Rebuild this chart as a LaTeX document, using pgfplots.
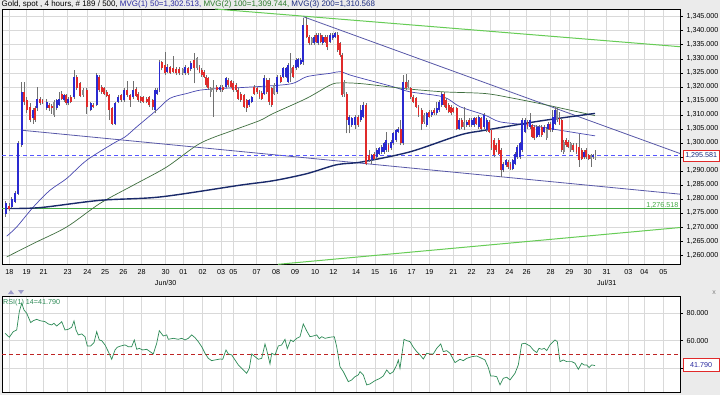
\documentclass[border=0pt]{standalone}
\usepackage{fontspec}
\setmainfont{Liberation Sans}
\usepackage{pgfplots}
\usepackage{pgfplotstable}
\pgfplotsset{compat=1.18}
\definecolor{bgc}{HTML}{EBEBEB}
\definecolor{gridc}{HTML}{D9D9D9}
\definecolor{upc}{HTML}{2A2AD0}
\definecolor{dnc}{HTML}{E02A2A}
\definecolor{grc}{HTML}{8C8C8C}
\definecolor{wickc}{HTML}{707070}
\definecolor{mvgone}{HTML}{4848B0}
\definecolor{mvgtwo}{HTML}{3E6E3E}
\definecolor{mvgthree}{HTML}{1A2A6A}
\definecolor{trendc}{HTML}{5858A8}
\definecolor{dashc}{HTML}{5555FF}
\definecolor{greenl}{HTML}{66CC55}
\definecolor{greenh}{HTML}{44AA44}
\definecolor{rsic}{HTML}{2E8B57}
\definecolor{titleblue}{HTML}{2A2AA0}
\definecolor{titlegreen}{HTML}{2A7A2A}
\definecolor{titlenavy}{HTML}{1A2A80}

\pgfplotstableread{
x b t l h
5.7 1274.5 1278.6 1273.6 1279.2
11.7 1277.1 1280.1 1276.6 1280.6
15 1279.0 1282.1 1278.6 1282.9
18.3 1281.9 1299.8 1281.5 1300.5
21.7 1299.2 1318.2 1298.5 1321.8
33.3 1308.7 1311.7 1306.9 1312.3
37.3 1312.3 1315.8 1311.5 1319.8
46.7 1312.3 1314.7 1311.7 1315.5
56.7 1312.3 1315.2 1311.7 1315.8
59.3 1313.5 1315.8 1313.1 1318.2
64 1315.2 1317.0 1314.7 1317.6
68.3 1314.1 1315.8 1313.5 1316.4
74 1316.2 1323.6 1315.8 1326.0
90.7 1311.7 1314.1 1311.2 1314.7
96.7 1313.5 1324.2 1313.1 1324.8
115 1306.9 1314.1 1306.3 1314.7
118.3 1314.7 1316.4 1314.1 1317.0
124 1315.2 1318.8 1314.7 1319.4
133.3 1316.2 1318.8 1315.8 1322.2
155 1311.7 1318.8 1310.5 1319.4
157.3 1317.6 1318.8 1317.0 1319.4
159.5 1318.8 1328.9 1318.2 1329.5
167.3 1325.4 1327.2 1324.8 1328.0
185 1324.8 1327.2 1324.2 1327.8
190.7 1326.2 1328.6 1325.6 1329.2
220 1318.8 1320.0 1318.2 1320.6
226 1319.8 1323.0 1319.4 1323.6
249.3 1313.5 1315.2 1312.9 1315.8
251.7 1314.7 1316.2 1314.1 1316.7
264 1317.6 1323.0 1317.0 1324.2
277.3 1318.2 1323.6 1317.6 1324.2
283.3 1323.6 1326.6 1323.0 1327.2
286 1323.6 1326.6 1323.0 1327.2
288.4 1321.8 1327.8 1321.2 1328.6
296 1326.6 1329.5 1326.0 1330.1
298.3 1327.2 1329.8 1326.6 1330.4
300.7 1328.3 1329.5 1327.8 1330.1
303.3 1328.9 1342.0 1327.7 1344.4
314 1335.5 1337.9 1334.9 1338.5
318.3 1335.5 1338.5 1334.9 1339.1
322.7 1335.5 1337.9 1334.9 1338.5
330 1336.1 1338.5 1335.5 1339.1
332.7 1337.3 1338.5 1336.7 1339.1
335 1337.9 1339.1 1337.3 1339.7
349.3 1306.3 1309.3 1303.4 1309.9
351.7 1306.3 1308.7 1305.7 1309.3
355 1306.3 1309.3 1305.1 1309.9
360.7 1308.1 1311.7 1307.5 1313.5
363 1309.3 1313.5 1308.7 1314.7
371.7 1293.8 1295.6 1292.6 1296.2
376.7 1295.0 1297.4 1294.4 1298.0
379.3 1296.2 1298.0 1295.6 1298.6
381.7 1296.8 1298.6 1296.2 1299.2
384 1296.8 1299.8 1296.2 1300.4
386.2 1297.4 1301.0 1296.8 1303.9
391 1298.0 1300.4 1297.4 1301.0
393.3 1299.8 1303.4 1299.2 1304.0
396 1301.0 1304.5 1300.4 1305.1
398.3 1303.9 1305.1 1303.4 1305.7
403.3 1299.8 1321.8 1299.2 1324.2
426.7 1306.3 1310.5 1305.7 1311.1
431.7 1309.9 1311.1 1309.3 1311.7
436.7 1310.5 1312.3 1309.9 1314.7
439 1311.7 1314.7 1311.1 1315.3
441.7 1313.5 1317.6 1312.9 1318.2
459.3 1305.1 1308.1 1304.5 1308.7
466.7 1306.3 1307.5 1305.7 1308.1
471.7 1306.3 1308.1 1305.7 1308.7
474 1306.3 1308.7 1305.7 1309.3
478.6 1305.7 1309.3 1305.1 1309.9
484 1305.7 1309.9 1305.1 1310.5
486.7 1304.5 1308.1 1303.9 1308.7
503.3 1290.2 1292.6 1289.6 1293.2
506 1292.0 1293.8 1291.4 1294.4
512.7 1290.8 1293.8 1290.2 1294.4
515 1292.6 1296.2 1292.0 1296.8
517.3 1295.0 1298.6 1294.4 1299.2
520 1295.0 1299.8 1294.4 1300.4
522.3 1297.4 1308.1 1296.8 1308.7
525 1303.9 1308.1 1303.4 1308.7
530 1305.7 1308.1 1305.1 1310.5
536.7 1302.2 1305.7 1301.6 1306.3
539.3 1302.8 1305.7 1302.2 1306.3
544 1303.9 1305.7 1303.4 1306.3
548.3 1305.1 1306.9 1304.5 1307.5
552.6 1304.5 1309.3 1303.9 1311.7
555 1306.9 1311.7 1306.3 1312.9
584 1295.0 1296.8 1294.4 1297.4
593.3 1295.0 1295.6 1294.4 1296.2
}\upT

\pgfplotstableread{
x b t l h
9 1276.3 1277.6 1275.8 1278.5
24 1314.6 1318.2 1313.5 1321.8
26.7 1311.7 1315.2 1310.8 1316.4
30.3 1308.1 1312.9 1307.3 1314.1
35.3 1308.1 1312.3 1307.5 1313.1
40 1314.3 1315.5 1313.5 1316.2
42.5 1314.3 1315.2 1313.8 1315.8
49 1312.6 1313.5 1311.5 1314.1
51.7 1312.3 1313.1 1310.3 1313.8
61.7 1315.8 1317.6 1315.2 1318.5
66.2 1314.1 1317.0 1313.5 1317.6
70.7 1314.7 1316.4 1314.1 1317.0
76.7 1319.4 1323.6 1318.8 1324.2
80 1316.7 1321.2 1316.2 1321.8
86.7 1312.9 1318.8 1310.3 1319.4
93.3 1312.9 1313.5 1312.3 1314.1
99.2 1318.8 1323.6 1318.2 1324.2
101.7 1318.2 1320.0 1317.6 1320.6
104 1317.6 1319.4 1317.0 1320.0
106.7 1316.7 1318.2 1316.2 1318.8
109.3 1311.7 1317.0 1308.1 1317.6
112.3 1306.9 1312.3 1306.3 1312.9
120.8 1315.2 1317.0 1314.7 1317.6
127.3 1317.0 1318.8 1316.4 1322.2
130 1315.2 1317.0 1312.9 1317.6
136 1316.7 1319.1 1316.2 1319.8
138.3 1315.2 1317.6 1314.7 1318.2
140.7 1315.0 1316.2 1314.3 1316.7
143.3 1314.7 1316.2 1314.1 1316.7
146.7 1314.7 1315.8 1314.1 1316.4
149.3 1313.5 1316.2 1312.9 1316.7
152.7 1312.9 1315.2 1311.7 1315.8
161.7 1326.6 1328.9 1325.9 1329.3
165 1324.8 1327.8 1324.2 1332.5
170 1325.0 1326.9 1324.5 1327.5
173.3 1325.4 1326.6 1324.8 1331.0
176 1324.8 1326.2 1324.2 1326.9
179.3 1324.8 1326.2 1324.2 1326.9
188.3 1324.8 1326.6 1324.2 1327.2
194 1326.6 1329.5 1321.2 1331.9
199.5 1325.4 1327.2 1325.0 1327.8
201.7 1324.2 1326.0 1323.6 1326.6
204 1323.6 1325.4 1323.0 1326.0
206.2 1320.6 1323.6 1320.0 1324.2
208.4 1319.4 1323.0 1318.8 1323.6
216.7 1318.8 1320.0 1318.2 1320.6
222.7 1318.8 1320.0 1318.2 1320.6
228.3 1320.6 1322.4 1320.0 1323.0
231 1320.0 1322.2 1319.4 1322.6
233.3 1318.8 1321.4 1318.2 1322.0
236 1318.8 1320.6 1318.2 1321.2
238.3 1315.8 1318.8 1315.2 1319.4
240.7 1315.2 1317.6 1314.7 1318.2
244 1312.9 1317.0 1312.3 1317.6
246.7 1312.3 1315.2 1311.1 1315.8
254 1317.6 1320.0 1317.0 1320.6
257.3 1318.2 1319.4 1317.6 1320.0
259.5 1316.4 1318.2 1315.8 1318.8
261.7 1315.8 1317.9 1315.2 1318.5
266.7 1318.2 1322.4 1317.6 1323.0
269.3 1314.7 1322.4 1313.5 1323.0
271.7 1313.5 1319.4 1312.9 1320.0
280.7 1321.8 1323.6 1321.2 1324.2
293.3 1323.6 1327.2 1323.0 1327.8
306.7 1337.9 1342.0 1337.3 1345.0
309 1335.5 1337.9 1334.9 1338.5
316 1336.1 1338.5 1335.5 1339.1
320.7 1336.1 1338.5 1335.5 1339.1
325 1336.1 1337.9 1335.5 1338.5
327.3 1334.3 1337.9 1333.1 1338.5
337.7 1333.1 1338.5 1332.5 1339.4
340 1331.3 1335.5 1330.7 1336.1
342 1317.0 1331.3 1316.4 1331.9
346.7 1308.1 1317.6 1303.4 1318.2
358.3 1306.3 1309.3 1305.7 1309.9
366 1292.6 1313.5 1292.0 1314.1
369.3 1293.8 1295.6 1293.2 1297.4
374 1294.4 1296.2 1293.8 1296.8
388.5 1297.4 1299.2 1296.8 1299.8
400.7 1299.8 1305.1 1299.2 1308.1
406 1319.4 1321.8 1318.8 1324.5
410.7 1316.4 1319.4 1315.8 1320.0
413.3 1314.7 1316.4 1314.1 1317.0
416 1312.9 1315.9 1312.3 1316.4
418.5 1309.9 1312.9 1309.3 1313.5
421.7 1306.9 1311.7 1304.5 1312.3
429.3 1309.3 1311.1 1308.7 1311.7
434 1310.5 1311.7 1309.9 1312.3
444 1313.5 1317.6 1312.9 1318.2
446.3 1312.3 1315.3 1311.7 1315.9
448.6 1311.1 1313.5 1310.5 1314.1
450.9 1310.5 1312.9 1309.9 1313.5
453.3 1311.1 1312.3 1310.5 1312.9
456.7 1305.1 1312.3 1304.5 1312.9
461.7 1305.7 1308.1 1305.1 1308.7
469.3 1306.3 1308.1 1305.7 1308.7
476.2 1306.9 1308.7 1306.3 1309.3
481.4 1305.1 1308.7 1304.5 1309.3
489 1303.9 1307.5 1303.4 1308.1
491.5 1298.0 1304.5 1297.4 1305.1
494 1295.6 1301.0 1295.0 1301.6
496.4 1297.4 1299.2 1296.8 1299.8
498.7 1296.2 1301.0 1295.6 1301.6
501 1290.2 1297.4 1287.9 1298.0
508.3 1291.4 1293.2 1290.8 1293.8
510.5 1290.8 1292.6 1290.2 1293.2
527.5 1305.7 1307.5 1305.1 1308.1
532 1302.2 1306.3 1301.6 1306.9
534.3 1301.6 1305.7 1301.0 1306.3
541.7 1302.8 1305.7 1302.2 1306.3
550.3 1304.5 1306.9 1303.9 1307.5
559.5 1306.9 1308.7 1306.3 1311.1
561.7 1297.4 1308.1 1296.8 1308.7
566 1299.2 1301.0 1298.6 1301.6
568.3 1298.6 1300.4 1298.0 1301.0
573.3 1297.4 1299.2 1296.8 1299.8
576.5 1296.8 1299.2 1296.2 1299.8
579.3 1293.8 1298.6 1291.4 1303.3
581.7 1294.4 1297.4 1293.8 1298.0
586.3 1295.0 1297.4 1294.4 1298.0
588.7 1294.4 1295.6 1293.8 1296.2
}\dnT

\pgfplotstableread{
x b t l h
54 1309.9 1314.7 1309.3 1315.2
83.3 1317.0 1318.8 1316.4 1319.4
182.7 1324.8 1326.2 1324.2 1326.6
197.3 1326.6 1330.1 1325.9 1330.7
210.7 1318.2 1319.4 1316.2 1320.0
213.3 1318.8 1319.4 1309.3 1322.4
274.3 1317.6 1320.6 1317.0 1321.2
290.7 1324.8 1326.6 1321.8 1331.9
311.7 1335.5 1337.3 1334.9 1337.9
344.3 1317.6 1321.8 1316.4 1322.4
408.3 1320.0 1321.8 1319.4 1322.4
424 1307.5 1309.9 1306.9 1310.5
464 1305.7 1307.5 1304.5 1312.9
546.7 1301.6 1305.1 1301.0 1305.7
557.4 1308.1 1311.7 1307.5 1312.3
563.7 1296.8 1300.4 1296.2 1301.0
570.7 1297.4 1299.8 1296.8 1300.4
591 1294.4 1295.6 1291.4 1296.2
595.5 1294.4 1295.6 1294.0 1297.4
}\grT

\newcommand\candles[2]{%
\addplot[draw=none, no markers, forget plot,
  error bars/.cd, y dir=plus, y explicit, error mark=none,
  error bar style={draw=wickc, solid, line width=0.6bp}]
  table[x=x, y=l, y error plus expr={\thisrow{h}-\thisrow{l}}] {#1};
\addplot[draw=none, no markers, forget plot,
  error bars/.cd, y dir=plus, y explicit, error mark=none,
  error bar style={draw=#2, solid, line width=1.9bp}]
  table[x=x, y=b, y error plus expr={\thisrow{t}-\thisrow{b}}] {#1};
}

\pgfplotsset{
  datex/.style={
    xmin=2, xmax=680,
    xtick={9.3,26.7,43.7,67.7,87.3,105,123.3,141.7,165.7,183.3,202.7,221,233.3,256.7,276,295,315,333.3,356,375,393.3,411.7,429.3,453.3,471.7,490.7,509.3,526.7,550.7,569.3,587.7,606.7,628.3,644.3,663.3},
    xtick pos=bottom,
    xtick style={draw=none},
    scale only axis,
    width=678bp,
    axis background/.style={fill=white},
    grid=major,
    grid style={draw=gridc, line width=0.5bp},
    axis line style={black, line width=0.8bp},
    tick label style={font=\fontsize{7.2}{8}\selectfont, /pgf/number format/assume math mode=true},
    ytick pos=right,
    yticklabel pos=right,
    ytick style={black, line width=0.5bp},
    tick align=outside,
    major tick length=3bp,
    clip=false,
  }
}

\begin{document}
\begin{tikzpicture}
\useasboundingbox (0bp,0bp) rectangle (720bp,-395bp);
\fill[bgc] (0bp,0bp) rectangle (720bp,-395bp);

\begin{axis}[datex,
  at={(2bp,-264.3bp)}, anchor=south west,
  height=255.3bp,
  ymin=1256.68, ymax=1347.75,
  ytick={1260,1265,...,1345},
  yticklabel style={/pgf/number format/.cd, fixed, fixed zerofill, precision=3, 1000 sep={,}},
  xticklabels={18,19,21,23,24,25,26,28,30,01,02,03,05,07,08,09,10,12,14,15,16,17,19,21,22,23,24,26,28,29,30,31,03,04,05},
  xticklabel style={yshift=1bp},
]
% trend lines
\addplot[greenl, line width=1bp, forget plot] coordinates {(215,1347.75) (680,1334.3)};
\addplot[greenl, line width=1bp, forget plot] coordinates {(278,1256.68) (680,1269.8)};
\addplot[greenh, line width=0.9bp, forget plot] coordinates {(2,1276.518) (680,1276.518)};
\addplot[trendc, line width=0.8bp, forget plot] coordinates {(303.3,1345.0) (680,1296.2)};
\addplot[trendc, line width=0.8bp, forget plot] coordinates {(21.7,1304.5) (680,1281.7)};
\addplot[dashc, dash pattern=on 4bp off 3bp, line width=0.9bp, forget plot] coordinates {(2,1295.581) (680,1295.581)};
% moving averages
\addplot[mvgone, line width=0.7bp, smooth, forget plot] coordinates {
(6.7,1266.7) (16.7,1270.0) (33.3,1277.1) (50,1283.1) (66.7,1287.3) (86.7,1293.8) (113.3,1299.8) (125,1302.1) (136.7,1305.7) (156.7,1311.7) (170,1315.9) (186.7,1317.6) (200,1318.8) (220,1319.4) (245,1319.8) (290,1321.0) (306.7,1323.6) (330,1324.8) (340,1325.4) (350,1324.2) (362,1323.0) (393.3,1320.0) (410,1318.2) (443.3,1316.4) (460,1312.9) (485,1309.9) (500,1307.5) (530,1306.3) (560,1304.5) (595,1302.5)};
\addplot[mvgtwo, line width=0.7bp, smooth, forget plot] coordinates {
(6.7,1259.3) (33.3,1264.1) (66.7,1270.0) (100,1278.4) (133.3,1284.9) (166.7,1291.4) (200,1299.8) (233.3,1304.5) (260,1308.0) (273.3,1310.5) (306.7,1315.9) (330,1320.6) (340,1321.4) (362,1321.1) (403.3,1319.4) (443.3,1318.2) (485,1317.6) (513.3,1315.9) (546.7,1313.5) (595,1309.7)};
\addplot[mvgthree, line width=1.4bp, smooth, forget plot] coordinates {
(6.7,1276.6) (40,1276.9) (100,1279.5) (160,1280.7) (240,1284.9) (273.3,1286.5) (306.7,1289.0) (336.7,1292.2) (362,1293.2) (410,1296.8) (460,1302.8) (485,1304.5) (540,1307.8) (595,1310.5)};
% candles
\candles{\grT}{grc}
\candles{\upT}{upc}
\candles{\dnT}{dnc}
\end{axis}

\begin{axis}[datex,
  at={(2bp,-392.7bp)}, anchor=south west,
  height=96bp,
  ymin=22, ymax=92.1,
  ytick={40,60,80},
  yticklabels={,60.000,80.000},
  xticklabels={},
]
\addplot[dnc!85!black, dash pattern=on 4bp off 3bp, line width=0.8bp, forget plot] coordinates {(2,50) (680,50)};
\addplot[rsic, line width=0.7bp, forget plot] coordinates {
(5.0,65.4) (9.3,62.5) (13.3,66.6) (16.7,67.8) (19.3,81.2) (21.7,87.3) (24,82.4) (26.7,80.0) (30.7,73.2) (33.3,74.6) (36.7,75.6) (40,74.6) (45,73.9) (48.3,72.2) (51.7,71.5) (54,72.7) (56.7,70.7) (60,72.7) (61.7,73.9) (65,67.8) (68.3,68.3) (71.7,69.8) (74,74.4) (76,67.8) (78.3,64.2) (81.7,64.9) (85,62.9) (87.3,56.1) (90.7,56.1) (94,58.6) (96.7,66.6) (99.3,60.5) (101.7,60.0) (105,56.9) (108.3,52.0) (111.7,46.4) (115,53.2) (117.3,55.2) (120.7,56.1) (125,56.9) (128.3,55.6) (131.7,55.6) (134.3,60.5) (136.7,53.7) (139.3,54.4) (142.7,53.2) (146.7,53.7) (150,52.0) (153.3,50.3) (156.7,58.1) (159.3,67.3) (163.3,63.4) (166.7,64.2) (168.3,61.0) (173.3,61.7) (178.3,61.0) (181.7,61.7) (185,60.5) (188.3,61.7) (191.7,64.2) (195,62.2) (198.3,59.3) (201.7,55.6) (205,50.8) (208.3,47.1) (211.7,45.4) (215,45.9) (220,46.6) (222.7,46.4) (226,53.2) (228.3,50.3) (231.7,49.6) (235,45.9) (238.3,42.3) (241.7,39.8) (246.7,36.2) (249.3,39.8) (251.7,50.3) (255,48.3) (258.3,46.4) (261.7,47.1) (265,57.6) (266.7,53.2) (270,43.0) (271.7,50.8) (275,49.6) (278.3,56.1) (281.7,56.9) (285,61.0) (287.3,54.2) (290.7,60.5) (293.3,59.3) (296.7,61.7) (300,62.9) (303.3,72.2) (306.7,67.1) (310,62.9) (313.3,63.4) (316.7,64.2) (319.3,61.5) (321.7,62.9) (325,61.7) (330,62.5) (334.3,62.9) (336.7,55.6) (340,41.0) (343.3,37.4) (348.3,30.1) (351.7,31.3) (355,33.7) (358.3,35.0)
(360,37.4) (363.3,35.0) (366.7,27.7) (370,28.4) (375,30.8) (380,32.5) (383.3,34.2) (386.7,38.6) (390,35.7) (393.3,37.4) (396.7,42.3) (398.3,45.9) (400,39.8) (404,61.0) (406.7,60.0) (410,59.3) (413.3,55.2) (416.7,52.0) (420,49.6) (423.3,46.6) (426.7,50.8) (430,50.3) (433.3,50.3) (436.7,54.4) (440.7,57.6) (443.3,52.0) (446.7,52.7) (450,50.8) (455,44.0) (460,46.4) (463.3,45.4) (466.7,47.1) (471.7,48.3) (476.7,48.8) (481.7,47.1) (485,45.9) (488.3,40.4) (490.7,34.2) (493.3,34.2) (496.7,33.7) (500,27.7) (503.3,32.5) (506.7,33.3) (510,31.3) (515,36.2) (518.3,42.3) (521.7,57.6) (525,58.1) (530,56.1) (533.3,53.2) (536.7,51.3) (539,54.4) (541.7,53.7) (544.3,54.4) (546.7,52.7) (550,56.9) (555,60.5) (557.3,59.3) (560,44.7) (563.3,45.9) (566.7,44.7) (571.7,44.7) (575,43.5) (578.3,39.1) (581.7,43.5) (584,42.3) (586.7,42.3) (589,40.4) (591.7,42.3) (595,41.8)};
\end{axis}

% texts
\node[anchor=west, inner sep=0pt, font=\fontsize{8}{9}\selectfont] at (1.5bp,-4.5bp)
 {Gold, spot , 4 hours, \# 189 / 500, \textcolor{titleblue}{MVG(1) 50=1,302.513,} \textcolor{titlegreen}{MVG(2) 100=1,309.744,} \textcolor{titlenavy}{MVG(3) 200=1,310.568}};
\node[font=\fontsize{7.2}{8}\selectfont, inner sep=0pt] at (165.7bp,-282.5bp) {Jun/30};
\node[font=\fontsize{7.2}{8}\selectfont, inner sep=0pt] at (606.7bp,-282.5bp) {Jul/31};
\node[anchor=south east, font=\fontsize{7.2}{8}\selectfont, text=greenh, inner sep=0.5bp] at (679bp,-209bp) {1,276.518};
\node[draw=dnc, fill=white, font=\fontsize{7.2}{8}\selectfont, text=titlenavy, inner sep=1bp, minimum width=36bp, minimum height=11bp, anchor=west] at (683bp,-155.7bp) {1,295.581};
\node[draw=dnc, fill=white, font=\fontsize{7.2}{8}\selectfont, text=titleblue, inner sep=1bp, minimum width=36bp, minimum height=13bp, anchor=west] at (683bp,-365bp) {41.790};
\node[anchor=north west, font=\fontsize{7.2}{8}\selectfont, text=rsic, inner sep=0pt] at (3bp,-299bp) {RSI(1) 14=41.790};
\fill[gray!70!blue!60] (8bp,-294bp) -- (14bp,-294bp) -- (11bp,-290bp) -- cycle;
\fill[gray!70!blue!60] (18bp,-290bp) -- (24bp,-290bp) -- (21bp,-294bp) -- cycle;
\node[font=\fontsize{7}{8}\selectfont, text=gray, inner sep=0pt] at (714bp,-293bp) {x};
\end{tikzpicture}
\end{document}
